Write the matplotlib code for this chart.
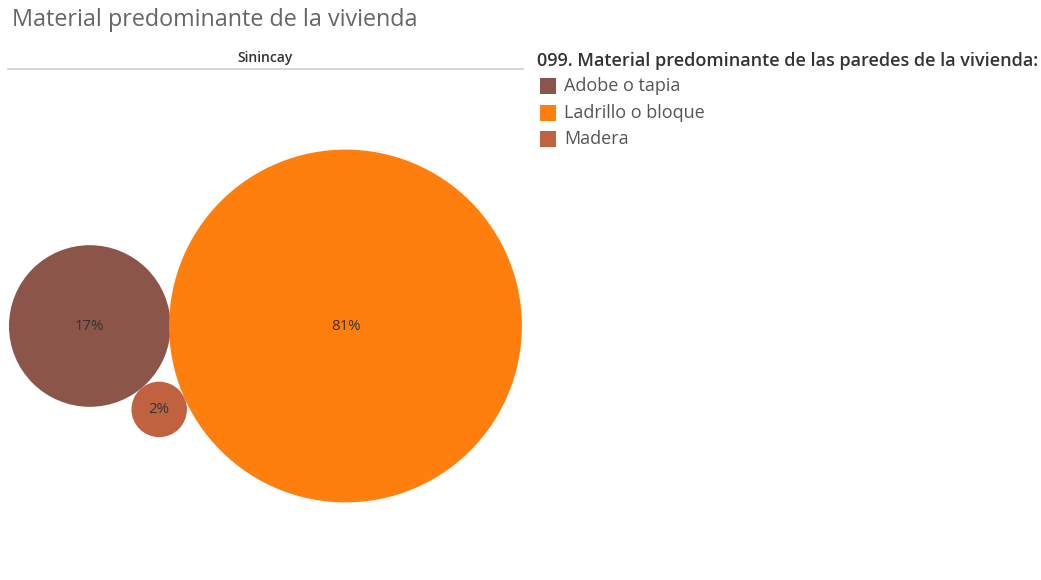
import numpy as np
import matplotlib
matplotlib.use("Agg")
import matplotlib.pyplot as plt
from matplotlib.patches import Circle, Rectangle

# ---- data ----
categories = ["Adobe o tapia", "Ladrillo o bloque", "Madera"]
values = [17, 81, 2]
labels = ["17%", "81%", "2%"]
colors = ["#8B5549", "#FF7F0E", "#C0613F"]
title = "Material predominante de la vivienda"
panel = "Sinincay"
legend_title = "099. Material predominante de las paredes de la vivienda:"

W, H = 1041, 580
fig = plt.figure(figsize=(W / 100, H / 100), dpi=100)
ax = fig.add_axes([0, 0, 1, 1])
ax.set_xlim(0, W)
ax.set_ylim(H, 0)
ax.axis("off")

FONT = "Open Sans"

# bubble sizes from values (area proportional to value)
k = 19.6
radii = [k * np.sqrt(v) for v in values]
r_a, r_l, r_m = radii

# packing: largest bubble at centre, second tangent to its left, third tangent to both below
c_l = np.array([345.5, 326.0])
c_a = c_l - np.array([r_l + r_a - 1.5, 0.0])
d1 = r_a + r_m
d2 = r_l + r_m
D = np.linalg.norm(c_l - c_a)
a = (d1**2 - d2**2 + D**2) / (2 * D)
h = np.sqrt(max(d1**2 - a**2, 0))
u = (c_l - c_a) / D
c_m = c_a + a * u + h * np.array([0.0, 1.0])
centers = [c_a, c_l, c_m]

for c, r, col, lab in zip(centers, radii, colors, labels):
    ax.add_patch(Circle(c, r, facecolor=col, edgecolor="none"))
    ax.text(c[0], c[1], lab, ha="center", va="center", fontsize=10.8,
            color="#333333", family=FONT)

# title and panel header
ax.text(12, 20, title, ha="left", va="center", fontsize=16.8, color="#666666",
        family=FONT)
ax.text(265, 58, panel, ha="center", va="center", fontsize=10, color="#333333",
        family=FONT, fontweight="semibold")
ax.plot([8, 523], [69, 69], color="#cfcfcf", lw=1.2)

# legend
ax.text(537, 61, legend_title, ha="left", va="center", fontsize=12.95,
        color="#333333", family=FONT, fontweight="semibold")
for i, (cat, col) in enumerate(zip(categories, colors)):
    y = 86 + i * 26.5
    ax.add_patch(Rectangle((540, y - 8), 16, 16, facecolor=col, edgecolor="none"))
    ax.text(564, y, cat, ha="left", va="center", fontsize=13, color="#555555",
            family=FONT)

fig.savefig("out.png", dpi=100)
